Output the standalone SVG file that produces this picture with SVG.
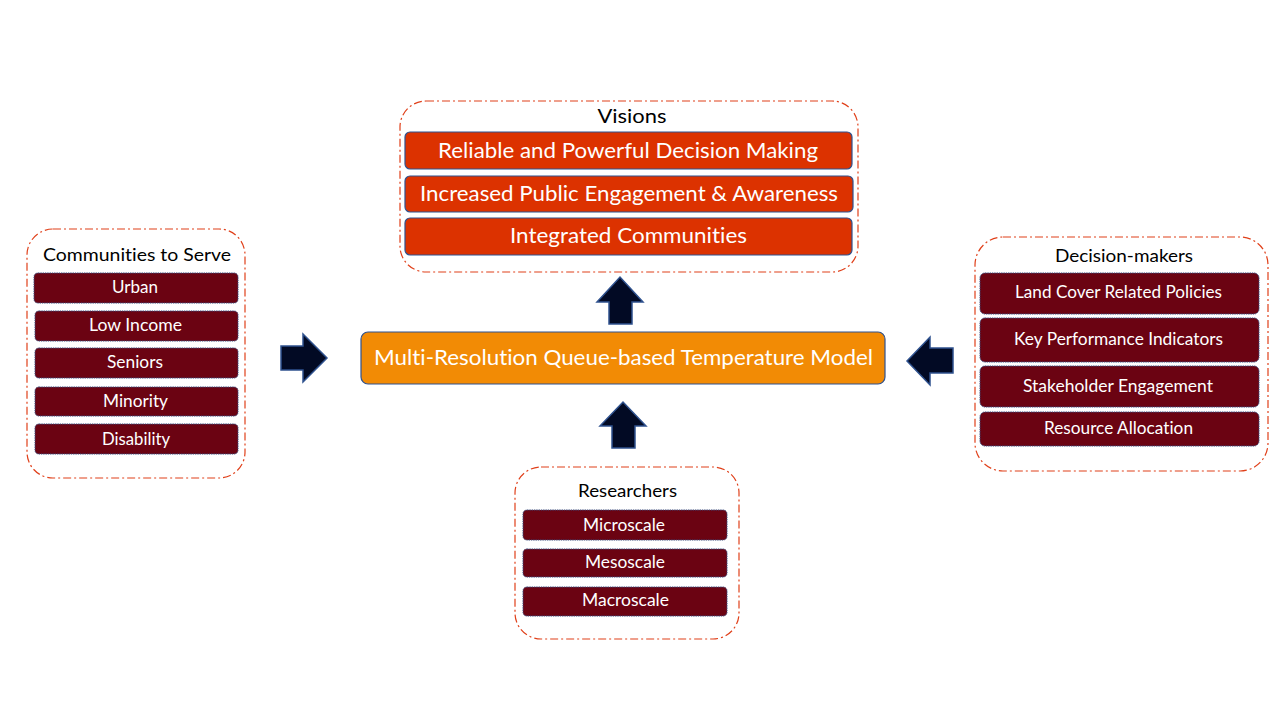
<svg xmlns="http://www.w3.org/2000/svg" width="1280" height="720" viewBox="0 0 1280 720">
<style>
.cont{fill:#fff;stroke:#e0401a;stroke-width:1.2;stroke-dasharray:8 3 2 3}
.red{fill:#dc3200;stroke:#2f528f;stroke-width:1.2}
.dred{fill:#6b0312;stroke:#3a4a7a;stroke-width:1;stroke-dasharray:1.5 0.8}
.org{fill:#f28b05;stroke:#2f528f;stroke-width:1.2}
.arr{fill:#020a24;stroke:#2f528f;stroke-width:1.5}
text{font-family:Lato,"Liberation Sans",sans-serif;text-anchor:middle;font-variant-ligatures:none}
.t{fill:#000}
.w{fill:#fff}
</style>
<rect width="1280" height="720" fill="#fff"/>
<g id="visions">
<rect class="cont" x="400" y="101" width="458" height="171" rx="26"/>
<text class="t" x="632" y="123" font-size="20" textLength="69" lengthAdjust="spacingAndGlyphs">Visions</text>
<rect class="red" x="405" y="132" width="447" height="37" rx="5"/>
<text class="w" x="628" y="158" font-size="21" textLength="380" lengthAdjust="spacingAndGlyphs">Reliable and Powerful Decision Making</text>
<rect class="red" x="405" y="176" width="448" height="36" rx="5"/>
<text class="w" x="629" y="201" font-size="21" textLength="418" lengthAdjust="spacingAndGlyphs">Increased Public Engagement &amp; Awareness</text>
<rect class="red" x="405" y="218" width="447" height="37" rx="5"/>
<text class="w" x="628.5" y="243" font-size="21" textLength="237" lengthAdjust="spacingAndGlyphs">Integrated Communities</text>
</g>
<g id="communities">
<rect class="cont" x="27" y="229" width="218" height="249" rx="26"/>
<text class="t" x="137" y="261" font-size="17" textLength="188" lengthAdjust="spacingAndGlyphs">Communities to Serve</text>
<rect class="dred" x="34" y="273" width="204" height="30" rx="4"/>
<text class="w" x="135" y="293" font-size="16.5" textLength="46" lengthAdjust="spacingAndGlyphs">Urban</text>
<rect class="dred" x="35" y="311" width="203" height="30" rx="4"/>
<text class="w" x="135.5" y="331" font-size="16.5" textLength="93" lengthAdjust="spacingAndGlyphs">Low Income</text>
<rect class="dred" x="35" y="348" width="203" height="30" rx="4"/>
<text class="w" x="135" y="368" font-size="16.5" textLength="56" lengthAdjust="spacingAndGlyphs">Seniors</text>
<rect class="dred" x="35" y="387" width="203" height="29" rx="4"/>
<text class="w" x="135.5" y="407" font-size="16.5" textLength="65" lengthAdjust="spacingAndGlyphs">Minority</text>
<rect class="dred" x="35" y="424" width="203" height="30" rx="4"/>
<text class="w" x="136" y="445" font-size="16.5" textLength="68" lengthAdjust="spacingAndGlyphs">Disability</text>
</g>
<g id="model">
<rect class="org" x="361" y="332" width="524" height="52" rx="7"/>
<text class="w" x="623.5" y="365" font-size="21" textLength="499" lengthAdjust="spacingAndGlyphs">Multi-Resolution Queue-based Temperature Model</text>
</g>
<g id="researchers">
<rect class="cont" x="515" y="467" width="224" height="172" rx="26"/>
<text class="t" x="627.5" y="497" font-size="17" textLength="99" lengthAdjust="spacingAndGlyphs">Researchers</text>
<rect class="dred" x="523" y="510" width="204" height="30" rx="4"/>
<text class="w" x="624" y="531" font-size="16.5" textLength="82" lengthAdjust="spacingAndGlyphs">Microscale</text>
<rect class="dred" x="523" y="549" width="204" height="28" rx="4"/>
<text class="w" x="625" y="568" font-size="16.5" textLength="80" lengthAdjust="spacingAndGlyphs">Mesoscale</text>
<rect class="dred" x="523" y="587" width="204" height="29" rx="4"/>
<text class="w" x="625.5" y="606" font-size="16.5" textLength="87" lengthAdjust="spacingAndGlyphs">Macroscale</text>
</g>
<g id="decision-makers">
<rect class="cont" x="975" y="237" width="293" height="234" rx="28"/>
<text class="t" x="1124" y="262" font-size="17" textLength="138" lengthAdjust="spacingAndGlyphs">Decision-makers</text>
<rect class="dred" x="980" y="273" width="279" height="41" rx="5"/>
<text class="w" x="1118.5" y="298" font-size="16.5" textLength="207" lengthAdjust="spacingAndGlyphs">Land Cover Related Policies</text>
<rect class="dred" x="980" y="318" width="279" height="44" rx="5"/>
<text class="w" x="1118.5" y="345" font-size="16.5" textLength="209" lengthAdjust="spacingAndGlyphs">Key Performance Indicators</text>
<rect class="dred" x="980" y="366" width="279" height="41" rx="5"/>
<text class="w" x="1118" y="392" font-size="16.5" textLength="190" lengthAdjust="spacingAndGlyphs">Stakeholder Engagement</text>
<rect class="dred" x="980" y="412" width="279" height="34" rx="5"/>
<text class="w" x="1118.5" y="434" font-size="16.5" textLength="149" lengthAdjust="spacingAndGlyphs">Resource Allocation</text>
</g>
<g id="connectors">
<polygon class="arr" points="609,324 632,324 632,302 643,302 620,277 597,302 609,302"/>
<polygon class="arr" points="612,448 635,448 635,426 646,426 623,402 600,426 612,426"/>
<polygon class="arr" points="281,346 303,346 303,334 327,358 303,382 303,370 281,370"/>
<polygon class="arr" points="953,348 930,348 930,337 907,361 930,385 930,373 953,373"/>
</g>
</svg>
